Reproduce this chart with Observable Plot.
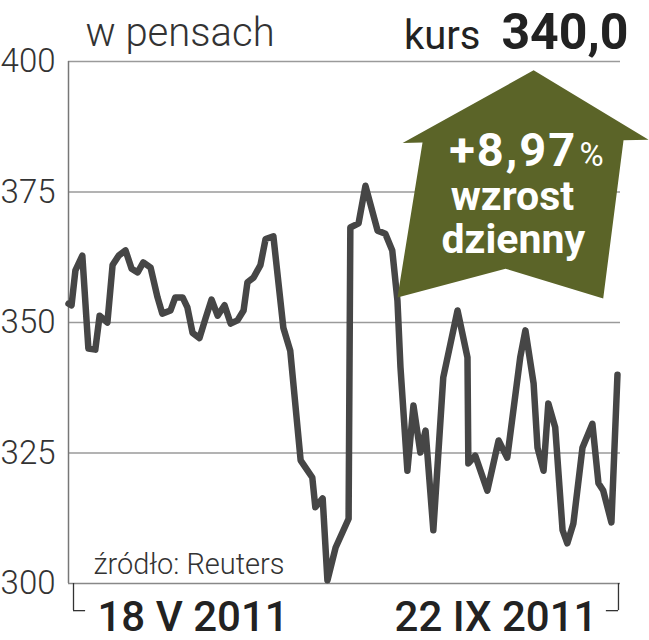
<!DOCTYPE html>
<html><head><meta charset="utf-8">
<script src="https://cdn.jsdelivr.net/npm/d3@7"></script>
<script src="https://cdn.jsdelivr.net/npm/@observablehq/plot@0.6"></script>
<style>body{margin:0;background:#fff} svg{display:block}</style>
</head><body><div id="chart"></div>
<script>
// trading-day offsets since 18 V 2011 and closing prices (pence)
const days = [0,0.7,1.6,3.2,4.6,6.2,7.2,9.0,10.2,11.6,13.2,14.6,16.0,17.3,19.0,20.6,21.7,23.6,24.7,26.4,27.5,28.7,30.3,31.7,33.1,34.5,36.1,37.5,39.1,40.5,41.4,42.8,44.4,45.6,47.4,49.7,51.3,53.7,56.4,57.1,58.8,59.9,61.8,64.8,65.2,67.1,68.7,71.5,73.3,74.9,76.1,76.8,78.4,79.8,81.4,82.6,84.4,86.7,90.0,92.3,92.5,94.1,96.9,99.5,101.5,104.5,105.7,107.6,108.5,109.9,111.0,112.6,114.3,115.4,116.8,118.9,121.2,122.6,123.7,125.6,127.0];
const prices = [353.6,353.3,360.0,362.8,345.0,344.8,351.3,350.0,361.0,362.8,363.8,360.3,359.6,361.5,360.5,354.8,351.7,352.3,354.8,354.8,352.9,348.0,347.0,350.8,354.4,351.3,353.3,349.8,350.4,352.3,357.7,358.6,361.0,366.0,366.5,349.0,344.6,323.6,320.3,314.6,316.3,300.6,306.9,312.4,368.2,369.0,376.2,367.6,367.0,363.8,354.2,341.4,321.6,334.1,325.1,329.3,310.2,339.5,352.3,343.3,323.0,324.5,317.8,327.4,324.1,343.3,348.5,338.3,326.0,321.6,334.5,329.9,310.2,307.7,311.5,326.0,330.6,319.2,317.8,311.7,340.0];
const yTicks = [300, 325, 350, 375, 400];
const gridValues = [325, 350, 375, 400];
const xLabels = ["18 V 2011", "22 IX 2011"];
const xLabelDays = [0, 127];
const unitLabel = "w pensach";
const priceLabel = "kurs";
const lastPrice = "340,0";
const changeLabel = "+8,97";
const changeUnit = "%";
const changeWords = ["wzrost", "dzienny"];
const sourceLabel = "źródło: Reuters";
// arrow badge outline in data units (day, price)
const arrowDays = [107.6, 134.2, 128.4, 123.7, 101.1, 76.1, 81.9, 77.3];
const arrowPrices = [398.3, 385.0, 384.9, 354.6, 360.3, 354.8, 384.5, 384.4];

const series = days.map((d, i) => ({day: d, price: prices[i]}));
const arrow = arrowDays.map((d, i) => ({day: d, price: arrowPrices[i]}));

const FONT = "Roboto, 'DejaVu Sans', sans-serif";
const plot = Plot.plot({
  width: 649, height: 640,
  marginLeft: 68, marginRight: 29, marginTop: 61, marginBottom: 57,
  style: {fontFamily: FONT, background: "#fff", color: "#333"},
  x: {domain: [0, 127.7], axis: null},
  y: {domain: [300, 400], axis: null},
  marks: [
    Plot.ruleY(gridValues, {stroke: "#9a9a9a", strokeWidth: 1.5}),
    Plot.ruleX([0], {stroke: "#777", strokeWidth: 1.5}),
    Plot.ruleY([300], {stroke: "#888", strokeWidth: 1.5}),
    Plot.axisY({ticks: yTicks, label: null, tickSize: 0, tickPadding: 13, fontSize: 33, fontWeight: 300, fill: "#333", tickFormat: d => String(d)}),
    Plot.line(series, {x: "day", y: "price", stroke: "#464646", strokeWidth: 6.5, strokeLinejoin: "round", strokeLinecap: "round"}),
    Plot.line(arrow, {x: "day", y: "price", fill: "#5b6428", stroke: "none"}),
    Plot.text([changeLabel], {x: 117.7, y: 379.9, text: d => d, textAnchor: "end", lineAnchor: "bottom", fontSize: 47, fontWeight: 700, fill: "#fff"}),
    Plot.text([changeUnit], {x: 118.2, y: 379.9, text: d => d, textAnchor: "start", lineAnchor: "bottom", fontSize: 33, fontWeight: 400, fill: "#fff"}),
    Plot.text([changeWords[0]], {x: 102.7, y: 371.6, text: d => d, lineAnchor: "bottom", fontSize: 41, fontWeight: 700, fill: "#fff"}),
    Plot.text([changeWords[1]], {x: 102.9, y: 363.4, text: d => d, lineAnchor: "bottom", fontSize: 41, fontWeight: 700, fill: "#fff"}),
    Plot.text([unitLabel], {frameAnchor: "top-left", dx: 17, dy: -16, text: d => d, textAnchor: "start", lineAnchor: "bottom", fontSize: 40, fontWeight: 300, fill: "#333"}),
    Plot.text([priceLabel], {frameAnchor: "top-right", dx: -140, dy: -13, text: d => d, textAnchor: "end", lineAnchor: "bottom", fontSize: 40, fontWeight: 400, fill: "#222"}),
    Plot.text([lastPrice], {frameAnchor: "top-right", dx: 8, dy: -13, text: d => d, textAnchor: "end", lineAnchor: "bottom", fontSize: 50, fontWeight: 700, fill: "#222"}),
    Plot.text([sourceLabel], {frameAnchor: "bottom-left", dx: 25, dy: -10, text: d => d, textAnchor: "start", lineAnchor: "bottom", fontSize: 29, fontWeight: 300, fill: "#333"}),
    Plot.ruleX([xLabelDays[0]], {y1: 300, y2: 294.8, dx: 5, stroke: "#333", strokeWidth: 1.3}),
    Plot.ruleY([294.8], {x1: xLabelDays[0], x2: xLabelDays[0] + 2.8, dx: 5, stroke: "#333", strokeWidth: 1.3}),
    Plot.ruleX([xLabelDays[1]], {y1: 300, y2: 294.8, dx: 1, stroke: "#333", strokeWidth: 1.3}),
    Plot.ruleY([294.8], {x1: xLabelDays[1] - 2.8, x2: xLabelDays[1], dx: 1, stroke: "#333", strokeWidth: 1.3}),
    Plot.text([xLabels[0]], {x: xLabelDays[0], y: 300, dx: 29, dy: 47, text: d => d, textAnchor: "start", lineAnchor: "bottom", fontSize: 42, fontWeight: 500, fill: "#222"}),
    Plot.text([xLabels[1]], {x: xLabelDays[1], y: 300, dx: -20, dy: 47, text: d => d, textAnchor: "end", lineAnchor: "bottom", fontSize: 42, fontWeight: 500, fill: "#222"})
  ]
});
d3.select(plot).selectAll("text").filter(function() { return this.textContent === changeLabel; }).style("letter-spacing", "2px");
document.getElementById("chart").appendChild(plot);
</script>
</body></html>
